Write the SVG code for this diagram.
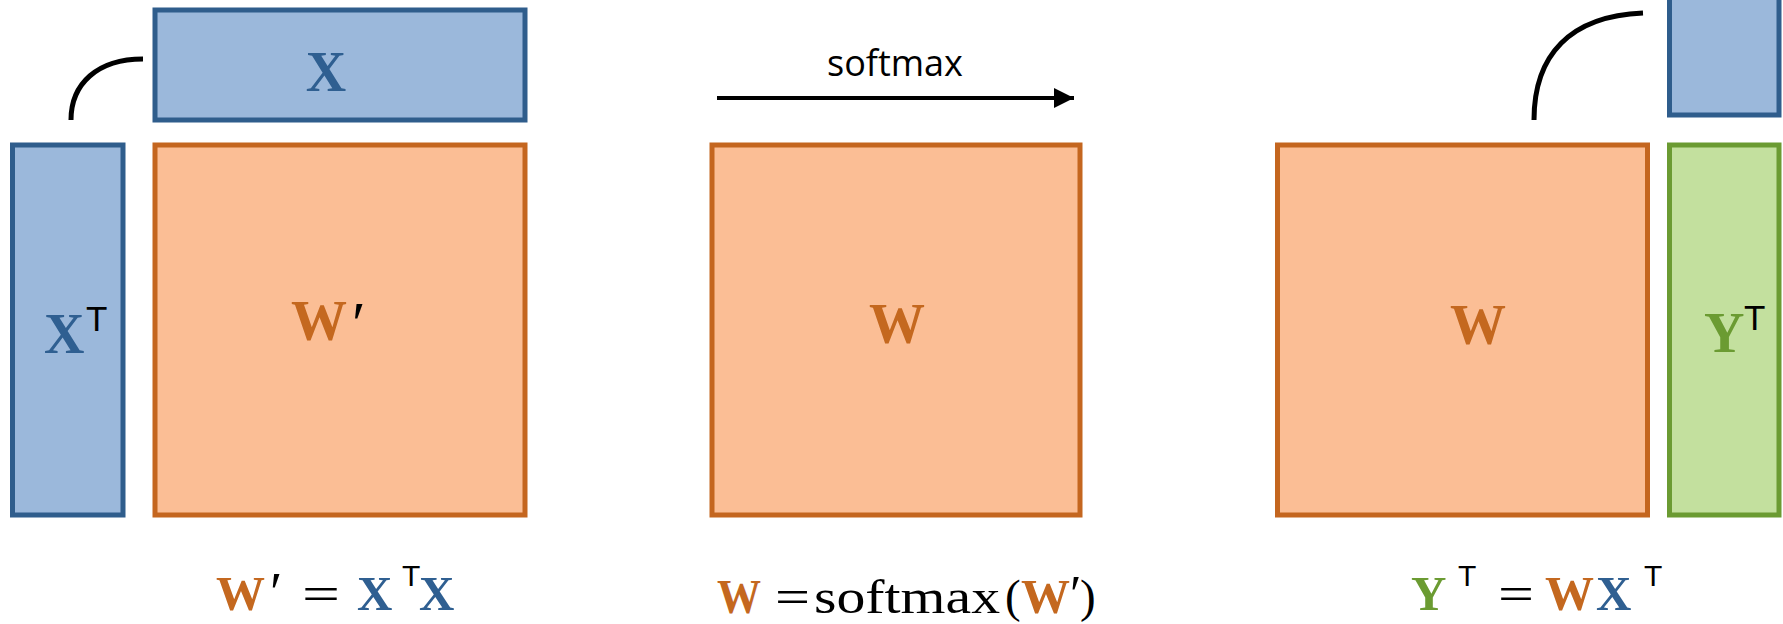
<svg xmlns="http://www.w3.org/2000/svg" width="1783" height="624" viewBox="0 0 1783 624">
<style>
.bl{fill:#9BB8DB;stroke:#2F5D8C;stroke-width:5}
.or{fill:#FBBE95;stroke:#C4661F;stroke-width:5}
.gr{fill:#C3E09E;stroke:#6B9B32;stroke-width:5}
.m{font-family:"Liberation Serif","DejaVu Serif",serif;font-weight:bold}
.lab{font-size:56px}
.fm{font-size:49px}
.tb{fill:#2F5F91}
.to{fill:#C4681F}
.tg{fill:#6B9B32}
.sup{font-family:"Liberation Sans","DejaVu Sans",sans-serif;fill:#000}
.rm{font-family:"Liberation Serif","DejaVu Serif",serif;fill:#000;font-weight:normal}
.con{fill:none;stroke:#000;stroke-width:5}
</style>
<defs>
<marker id="ah" viewBox="0 0 10 10" refX="10" refY="5" markerWidth="5" markerHeight="5" orient="auto" markerUnits="strokeWidth">
<path d="M0,0 L10,5 L0,10 z" fill="#000"/>
</marker>
</defs>
<g id="connectors">
<path class="con" d="M143,59 C97,59 71,84 71,120"/>
<path class="con" d="M1643,13 C1570,16 1534,55 1534,120"/>
<line x1="717" y1="98" x2="1074" y2="98" stroke="#000" stroke-width="4" marker-end="url(#ah)"/>
<text x="895" y="76" text-anchor="middle" font-family="'Open Sans','Liberation Sans',sans-serif" font-size="36" fill="#000">softmax</text>
</g>
<g id="node-x">
<rect class="bl" x="155" y="10" width="370" height="110"/>
<text class="m lab tb" x="326" y="91" text-anchor="middle">X</text>
</g>
<g id="node-xt">
<rect class="bl" x="12.5" y="145" width="110.5" height="370"/>
<text class="m lab tb" x="44" y="353">X</text>
<text class="sup" x="86" y="331" font-size="35">T</text>
</g>
<g id="node-wprime">
<rect class="or" x="155" y="145" width="370" height="370"/>
<text class="m lab to" x="291" y="340">W</text>
<text class="rm" x="352" y="344" font-size="62">′</text>
</g>
<g id="node-w-mid">
<rect class="or" x="712" y="145" width="368" height="370"/>
<text class="m lab to" x="897" y="343" text-anchor="middle">W</text>
</g>
<g id="node-w-right">
<rect class="or" x="1277.5" y="145" width="370" height="370"/>
<text class="m lab to" x="1478" y="344" text-anchor="middle">W</text>
</g>
<g id="node-x-right">
<rect class="bl" x="1669.5" y="-10" width="109.5" height="125"/>
</g>
<g id="node-yt">
<rect class="gr" x="1669.5" y="145" width="109.5" height="370"/>
<text class="m lab tg" x="1704" y="352">Y</text>
<text class="sup" x="1744" y="330" font-size="35">T</text>
</g>
<g id="formula-1">
<text class="m fm to" x="216" y="610">W</text>
<text class="rm" x="270" y="612" font-size="56">′</text>
<text class="rm" x="302" y="610" font-size="48" textLength="38" lengthAdjust="spacingAndGlyphs">=</text>
<text class="m fm tb" x="357" y="610">X</text>
<text class="sup" x="402" y="586" font-size="30">T</text>
<text class="m fm tb" x="419" y="610">X</text>
</g>
<g id="formula-2">
<text class="m fm to" x="717" y="613" textLength="44" lengthAdjust="spacingAndGlyphs">W</text>
<text class="rm" x="775" y="613" font-size="48" textLength="35" lengthAdjust="spacingAndGlyphs">=</text>
<text class="rm" x="814" y="613" font-size="48" textLength="186" lengthAdjust="spacingAndGlyphs">softmax</text>
<text class="rm" x="1005" y="612" font-size="47">(</text>
<text class="m fm to" x="1021" y="613">W</text>
<text class="rm" x="1070" y="612" font-size="52">′</text>
<text class="rm" x="1080" y="612" font-size="47">)</text>
</g>
<g id="formula-3">
<text class="m fm tg" x="1411" y="610">Y</text>
<text class="sup" x="1458" y="586" font-size="30">T</text>
<text class="rm" x="1498" y="610" font-size="48" textLength="36" lengthAdjust="spacingAndGlyphs">=</text>
<text class="m fm to" x="1545" y="610">W</text>
<text class="m fm tb" x="1596" y="610">X</text>
<text class="sup" x="1644" y="586" font-size="30">T</text>
</g>
</svg>
